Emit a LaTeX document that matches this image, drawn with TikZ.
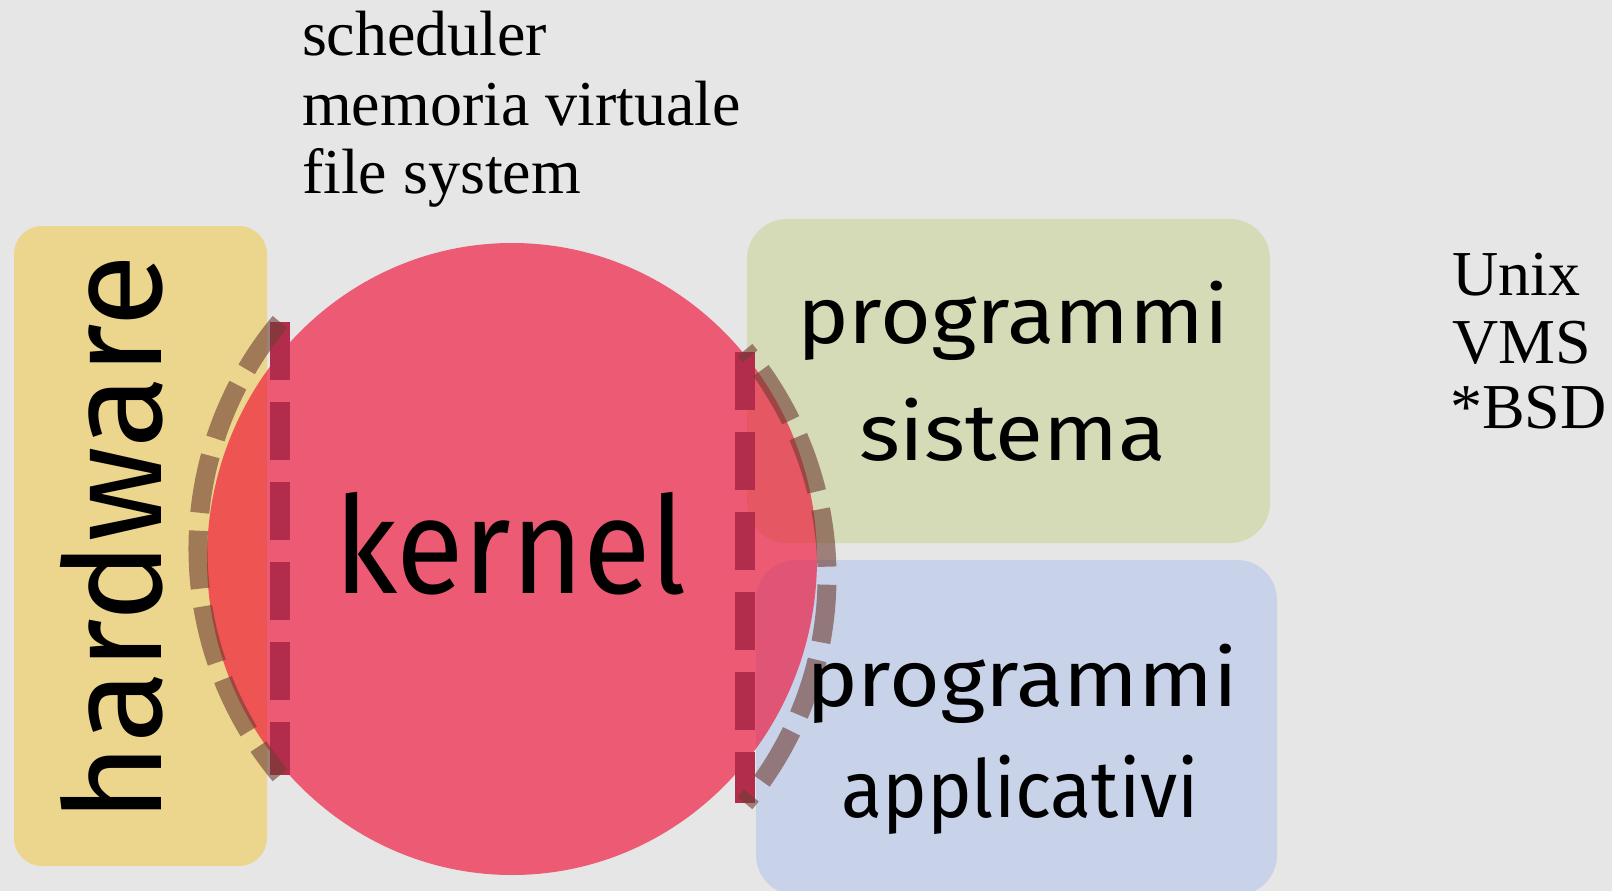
\documentclass[tikz,border=0pt]{standalone}
\usepackage{graphicx}
\usepackage{fontspec}
\setmainfont{Liberation Serif}
\newfontfamily\labelfont{Fira Sans}

\definecolor{bgcol}{RGB}{230,230,230}
\definecolor{hwfill}{RGB}{236,214,142}
\definecolor{sysfill}{RGB}{213,218,183}
\definecolor{appfill}{RGB}{200,211,234}
\definecolor{kernfill}{RGB}{240,7,46}
\definecolor{bordercol}{RGB}{178,45,75}
\definecolor{ringcol}{RGB}{110,60,50}

% scale a label horizontally to a given width, keeping its height
\newcommand\fitwidth[2]{\resizebox{#1}{\height}{#2}}

\begin{document}
\begin{tikzpicture}[x=1pt,y=-1pt,
  panel/.style={rounded corners=40pt},
  bigword/.style={inner sep=0pt,outer sep=0pt,anchor=base west,
    font=\labelfont\fontsize{135}{140}\selectfont},
  boxword/.style={inner sep=0pt,outer sep=0pt,anchor=base west,
    font=\labelfont\fontsize{80}{84}\selectfont},
  note/.style={inner sep=0pt,outer sep=0pt,anchor=base west,
    font=\fontsize{64}{69}\selectfont},
  layerline/.style={line width=20pt,draw=bordercol,
    dash pattern=on 58pt off 22pt},
  interface/.style={line width=19pt,draw=ringcol,draw opacity=0.6,
    dash pattern=on 58pt off 18pt}
]
% canvas
\fill[bgcol] (0,0) rectangle (1612,891);
\useasboundingbox (0,0) rectangle (1612,891);

% layers
\fill[hwfill,rounded corners=28pt] (14,226) rectangle (267,866);
\fill[sysfill,panel] (747,219) rectangle (1270,543);
\fill[appfill,panel] (756,560) rectangle (1277,895);

% kernel disc, translucent over the neighbouring layers
\fill[kernfill,fill opacity=0.62] (512,559) ellipse [x radius=305pt, y radius=316pt];

% boundaries inside the kernel
\draw[layerline] (280,322) -- (280,775);
\draw[layerline] (745,352) -- (745,803);

% interfaces with hardware and with the programs
\draw[interface] (280,322) arc [start angle=140.2, end angle=219.8, radius=354pt];
\draw[interface,dash phase=50pt] (745,350) arc [start angle=39.8, end angle=-39.8, radius=354pt];

% labels
\node[bigword] (kernel) at (334,593) {\fitwidth{353pt}{kernel}};
\node[bigword,rotate=90] (hardware) at (161,822) {\fitwidth{567pt}{hardware}};
\node[boxword] (sys1) at (797,343) {\fitwidth{432pt}{programmi}};
\node[boxword] (sys2) at (859,460) {\fitwidth{307pt}{sistema}};
\node[boxword] (app1) at (806,706) {\fitwidth{432pt}{programmi}};
\node[boxword] (app2) at (841,817) {\fitwidth{358pt}{applicativi}};

% kernel services
\node[note] (sched) at (302,56) {scheduler};
\node[note] (vmem) at (302,125) {memoria virtuale};
\node[note] (fs) at (302,193) {file system};

% examples
\node[note] (unix) at (1452,295) {Unix};
\node[note] (vms) at (1452,363) {VMS};
\node[note] (bsd) at (1450,428) {*BSD};
\end{tikzpicture}
\end{document}
